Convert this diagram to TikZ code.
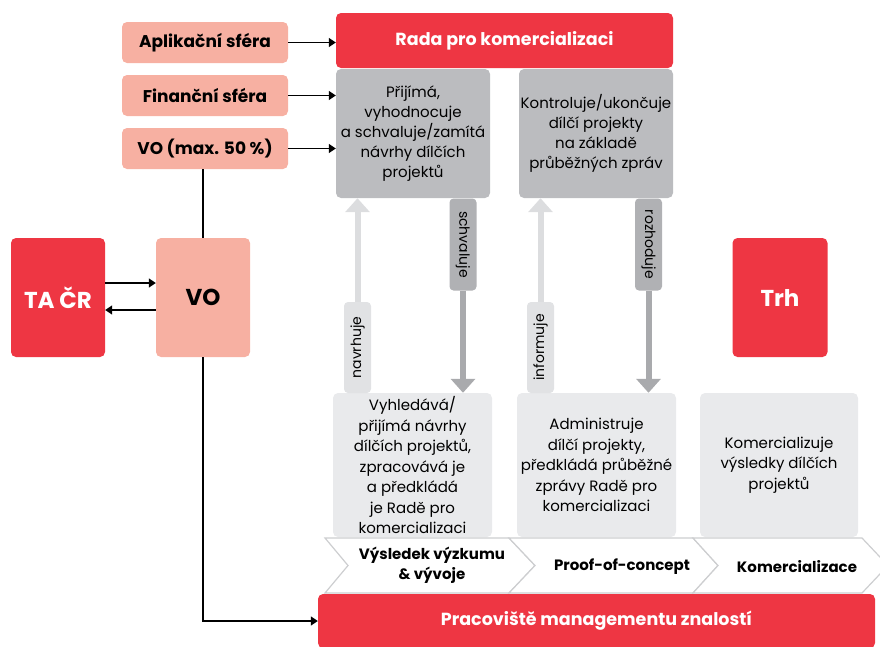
\documentclass[tikz,border=0pt]{standalone}
\usepackage{fontspec}
\setmainfont{Poppins}
\usepackage{graphicx}
\usetikzlibrary{arrows.meta}
\definecolor{cred}{HTML}{EE3643}
\definecolor{cpink}{HTML}{F7B0A2}
\definecolor{cgray}{HTML}{BBBCBF}
\definecolor{cstrip}{HTML}{B0B1B4}
\definecolor{cshaft}{HTML}{A9AAAD}
\definecolor{clight}{HTML}{E9EAEC}
\definecolor{clstrip}{HTML}{E1E2E4}
\definecolor{clshaft}{HTML}{DCDDDF}
\definecolor{cchev}{HTML}{CDCED0}
\begin{document}
\begin{tikzpicture}[x=1pt,y=-1pt,
  base/.style={inner sep=0pt, rounded corners=5pt, align=center},
  pinkbox/.style={base, fill=cpink, minimum width=166pt, minimum height=41pt, font=\fontsize{17}{20}\selectfont\bfseries},
  redbox/.style={base, fill=cred, text=white, font=\fontsize{17.5}{20}\selectfont\bfseries},
  bigbox/.style={base, minimum width=94pt, minimum height=119pt, font=\fontsize{23}{26}\selectfont\bfseries},
  graybox/.style={base, fill=cgray, minimum width=154pt, minimum height=129pt, font=\fontsize{15}{20}\selectfont},
  lightbox/.style={base, fill=clight, minimum width=159pt, minimum height=144pt, font=\fontsize{15}{20.5}\selectfont},
  stripbox/.style={inner sep=0pt, rounded corners=4pt, minimum width=27pt, minimum height=92pt, font=\fontsize{14}{16}\selectfont},
  conn/.style={line width=1.4pt, -{Triangle[length=7pt,width=9pt]}},
  plainline/.style={line width=1.4pt},
  shaft/.style={line width=6pt, -{Triangle[length=14pt,width=24pt]}},
  chev/.style={draw=cchev, line width=1.2pt, fill=white},
  chevtext/.style={align=center, inner sep=0pt, font=\fontsize{15}{20}\selectfont\bfseries}
]
\useasboundingbox (0,0) rectangle (880,646);
\clip (0,0) rectangle (880,646);

% left column
\node[pinkbox] (apl) at (205,42.5) {Aplikační sféra};
\node[pinkbox] (fin) at (205,95.5) {Finanční sféra};
\node[pinkbox] (vomax) at (205,148.5) {VO (max. 50 \%)};

% council
\node[redbox, minimum width=337pt, minimum height=55pt] (rada) at (504.5,40.5) {Rada pro komercializaci};
\node[graybox] (g1) at (413,133.5) {Přijímá,\\vyhodnocuje\\a schvaluje/zamítá\\návrhy dílčích\\projektů};
\node[graybox] (g2) at (596,133.5) {Kontroluje/ukončuje\\dílčí projekty\\na základě\\průběžných zpráv};

% big boxes
\node[bigbox, fill=cred, text=white] (tacr) at (58,297.5) {TA ČR};
\node[bigbox, fill=cpink] (vo) at (203,297.5) {VO};
\node[bigbox, fill=cred, text=white, minimum width=95pt] (trh) at (780,297.5) {Trh};

% lower boxes
\node[lightbox] (l1) at (412.5,465) {Vyhledává/\\přijímá návrhy\\dílčích projektů,\\zpracovává je\\a předkládá\\je Radě pro\\komercializaci};
\node[lightbox] (l2) at (596.5,465) {Administruje\\dílčí projekty,\\předkládá průběžné\\zprávy Radě pro\\komercializaci};
\node[lightbox, minimum width=158pt] (l3) at (779,465) {Komercializuje\\výsledky dílčích\\projektů};

% strips
\node[stripbox, fill=cstrip] (s1) at (463,244.5) {\rotatebox{-90}{schvaluje}};
\node[stripbox, fill=cstrip] (s2) at (648.5,244.5) {\rotatebox{-90}{rozhoduje}};
\node[stripbox, fill=clstrip, minimum height=91pt] (s3) at (357.5,347.5) {\rotatebox{90}{navrhuje}};
\node[stripbox, fill=clstrip, minimum height=91pt] (s4) at (540.5,347.5) {\rotatebox{90}{informuje}};

\draw[shaft, cshaft] (s1.south) -- (s1.south |- l1.north);
\draw[shaft, cshaft] (s2.south) -- (s2.south |- l2.north);
\draw[shaft, clshaft] (s3.north) -- (s3.north |- g1.south);
\draw[shaft, clshaft] (s4.north) -- (s4.north |- g2.south);

% chevrons
\draw[chev] (325,538) -- (509,538) -- (535,565.5) -- (509,593) -- (325,593) -- (348,565.5) -- cycle;
\draw[chev] (509,538) -- (693,538) -- (718,565.5) -- (693,593) -- (509,593) -- (535,565.5) -- cycle;
\draw[chev] (693,538) -- (862,538) -- (888,565.5) -- (862,593) -- (693,593) -- (718,565.5) -- cycle;
\node[chevtext] (c1) at (432,565.5) {Výsledek výzkumu\\\& vývoje};
\node[chevtext] (c2) at (622,567) {Proof-of-concept};
\node[chevtext] (c3) at (797,567) {Komercializace};

% bottom bar
\node[redbox, minimum width=557pt, minimum height=54pt] (bar) at (596.5,621) {Pracoviště managementu znalostí};

% connectors
\draw[conn] (apl.east) -- (apl.east -| rada.west);
\draw[conn] (fin.east) -- (fin.east -| g1.west);
\draw[conn] (vomax.east) -- (vomax.east -| g1.west);
\draw[plainline] (vomax.south -| vo.north) -- (vo.north);
\draw[conn] ([yshift=14.5pt]tacr.east) -- ([yshift=14.5pt]vo.west);
\draw[conn] ([yshift=-12.5pt]vo.west) -- ([yshift=-12.5pt]tacr.east);
\draw[conn] (vo.south) |- (bar.west);
\end{tikzpicture}
\end{document}
